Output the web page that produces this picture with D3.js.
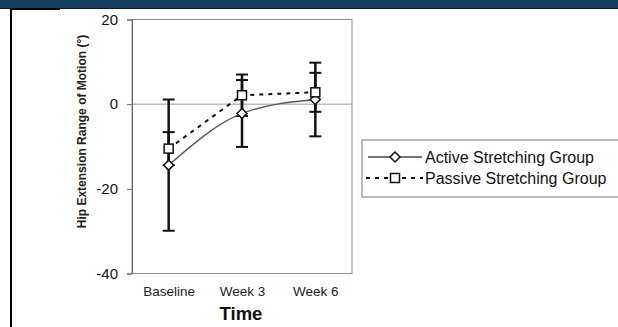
<!DOCTYPE html>
<html>
<head>
<meta charset="utf-8">
<script src="https://cdn.jsdelivr.net/npm/d3@7"></script>
<style>
  body { margin: 0; background: #fff; }
  svg { display: block; font-family: "Liberation Sans", Arial, sans-serif; }
</style>
</head>
<body>
<div id="chart"></div>
<script>
// data
var times = ["Baseline", "Week 3", "Week 6"];
var activeMean = [-14.4, -2.2, 1.1];
var activeSD = [15.5, 7.9, 8.7];
var passiveMean = [-10.5, 2.1, 2.8];
var passiveSD = [3.9, 4.9, 4.6];
var yTicks = [-40, -20, 0, 20];

var W = 618, H = 327;
var svg = d3.select("#chart").append("svg").attr("width", W).attr("height", H);

// frame decoration
svg.append("rect").attr("x", 0).attr("y", 0).attr("width", W).attr("height", 8).attr("fill", "#173f60");
svg.append("line").attr("x1", 0).attr("x2", W).attr("y1", 8.5).attr("y2", 8.5).attr("stroke", "#0b1a28").attr("stroke-width", 1);
svg.append("rect").attr("x", 10).attr("y", 8).attr("width", 2).attr("height", 319).attr("fill", "#000");
svg.append("rect").attr("x", 10).attr("y", 8).attr("width", 50).attr("height", 2).attr("fill", "#000");

// scales
var x = d3.scalePoint().domain(times).range([132, 352]).padding(0.5);
var y = d3.scaleLinear().domain([-40, 20]).range([273.5, 19.5]);

// plot box
svg.append("rect").attr("x", 132).attr("y", 19.5).attr("width", 220).attr("height", 254)
  .attr("fill", "none").attr("stroke", "#8a8a8a").attr("stroke-width", 1);

// zero line
svg.append("line").attr("x1", 132).attr("x2", 352).attr("y1", y(0)).attr("y2", y(0))
  .attr("stroke", "#9a9a9a").attr("stroke-width", 1);

// y axis (plain hyphen for negatives, like the original)
var yAxis = d3.axisLeft(y).tickValues(yTicks).tickSize(5).tickPadding(9).tickFormat(function(d) { return String(d); });
var gy = svg.append("g").attr("transform", "translate(132,0)").call(yAxis);
gy.select(".domain").attr("stroke", "#666");
gy.selectAll(".tick line").attr("stroke", "#666");
gy.selectAll(".tick text").attr("font-size", 15).attr("fill", "#111").attr("font-family", "Liberation Sans, Arial, sans-serif");

// x labels
var gx = svg.append("g").attr("transform", "translate(0,273.5)")
  .call(d3.axisBottom(x).tickSize(0).tickPadding(13));
gx.select(".domain").remove();
gx.selectAll(".tick text").attr("font-size", 13.5).attr("fill", "#222").attr("font-family", "Liberation Sans, Arial, sans-serif");

svg.append("text").attr("x", 241).attr("y", 320).attr("text-anchor", "middle")
  .attr("font-size", 18.5).attr("font-weight", "bold").attr("fill", "#111").text("Time");

svg.append("text").attr("transform", "translate(86,131.5) rotate(-90)").attr("text-anchor", "middle")
  .attr("font-size", 12).attr("font-weight", "bold").attr("fill", "#222")
  .text("Hip Extension Range of Motion (\u00B0)");

// error bars
var drawErr = function(means, sds) {
  var g = svg.append("g");
  times.forEach(function(t, i) {
    var cx = x(t), lo = y(means[i] - sds[i]), hi = y(means[i] + sds[i]);
    g.append("line").attr("x1", cx).attr("x2", cx).attr("y1", lo).attr("y2", hi)
      .attr("stroke", "#111").attr("stroke-width", 2.5);
    [lo, hi].forEach(function(yy) {
      g.append("line").attr("x1", cx - 6).attr("x2", cx + 6).attr("y1", yy).attr("y2", yy)
        .attr("stroke", "#111").attr("stroke-width", 2);
    });
  });
};
drawErr(activeMean, activeSD);
drawErr(passiveMean, passiveSD);

// lines
var line = d3.line().x(function(d, i) { return x(times[i]); }).y(function(d) { return y(d); })
  .curve(d3.curveMonotoneX);
svg.append("path").datum(activeMean).attr("d", line).attr("fill", "none")
  .attr("stroke", "#555").attr("stroke-width", 1.3);
svg.append("path").datum(passiveMean).attr("d", line.curve(d3.curveLinear)).attr("fill", "none")
  .attr("stroke", "#111").attr("stroke-width", 2).attr("stroke-dasharray", "4,5");

// markers
var diamond = function(g, cx, cy) {
  g.append("path").attr("d", "M" + cx + "," + (cy - 5) + "L" + (cx + 5) + "," + cy + "L" + cx + "," + (cy + 5) + "L" + (cx - 5) + "," + cy + "Z")
    .attr("fill", "#fff").attr("stroke", "#111").attr("stroke-width", 1.5);
};
var square = function(g, cx, cy) {
  g.append("rect").attr("x", cx - 4.5).attr("y", cy - 4.5).attr("width", 9).attr("height", 9)
    .attr("fill", "#fff").attr("stroke", "#111").attr("stroke-width", 1.5);
};
var mk = svg.append("g");
times.forEach(function(t, i) { diamond(mk, x(t), y(activeMean[i])); });
times.forEach(function(t, i) { square(mk, x(t), y(passiveMean[i])); });

// legend
var lg = svg.append("g");
lg.append("rect").attr("x", 362).attr("y", 140).attr("width", 270).attr("height", 57)
  .attr("fill", "#fff").attr("stroke", "#777").attr("stroke-width", 1);
lg.append("line").attr("x1", 368).attr("x2", 422).attr("y1", 157).attr("y2", 157)
  .attr("stroke", "#444").attr("stroke-width", 1.3);
diamond(lg, 395, 157);
lg.append("text").attr("x", 425).attr("y", 162.5).attr("font-size", 16).attr("fill", "#111").text("Active Stretching Group");
lg.append("line").attr("x1", 366).attr("x2", 423).attr("y1", 178).attr("y2", 178)
  .attr("stroke", "#111").attr("stroke-width", 2).attr("stroke-dasharray", "4,5");
square(lg, 395, 178);
lg.append("text").attr("x", 425).attr("y", 183.5).attr("font-size", 16).attr("fill", "#111").text("Passive Stretching Group");
</script>
</body>
</html>
